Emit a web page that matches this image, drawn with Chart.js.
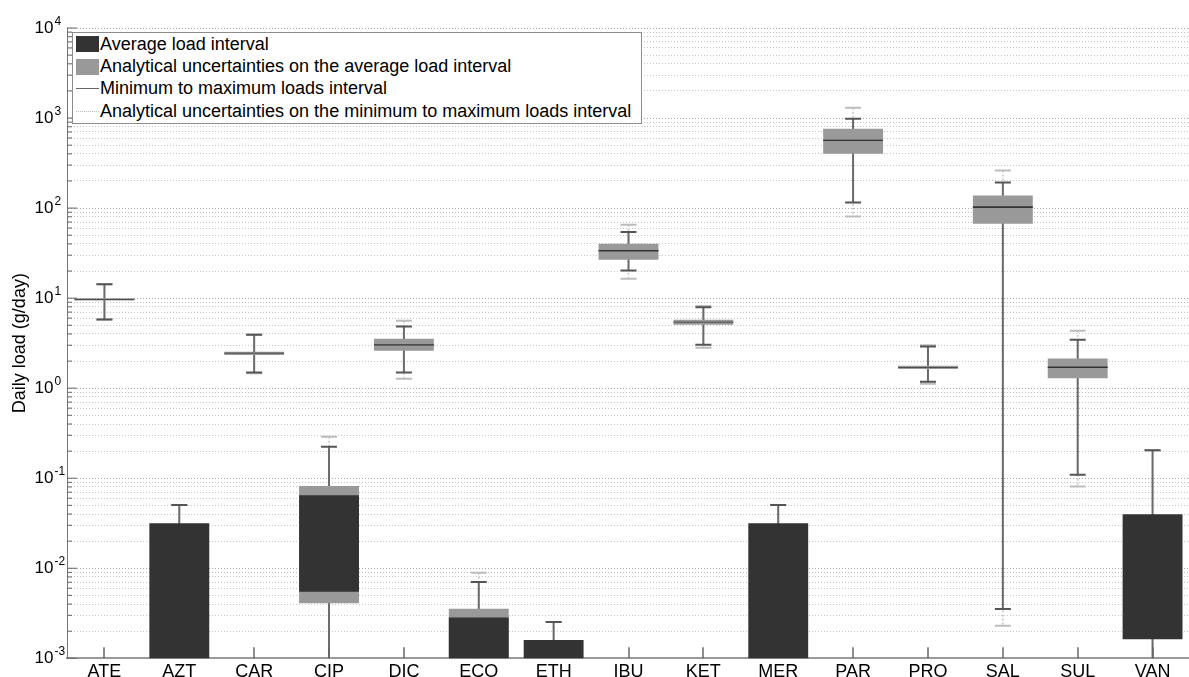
<!DOCTYPE html>
<html>
<head>
<meta charset="utf-8">
<script src="https://cdn.jsdelivr.net/npm/chart.js@4"></script>
<style>
  html, body { margin: 0; padding: 0; background: #fff; overflow: hidden; }
  #wrap { position: relative; width: 1200px; height: 677px; }
  #legend {
    position: absolute; left: 72px; top: 32px; width: 568px; height: 90px;
    background: #fff; border: 1px solid #8c8c8c;
    font: 18px "Liberation Sans", Arial, sans-serif; color: #000;
  }
  #legend .row { height: 22.4px; display: flex; align-items: center; white-space: nowrap; }
  #legend .sw { width: 23px; height: 16px; margin-left: 3px; margin-right: 1px; flex: none; }
  #legend .ln { width: 23px; height: 0; margin-left: 3px; margin-right: 1px; flex: none; }
</style>
</head>
<body>
<div id="wrap">
  <canvas id="myChart"></canvas>
  <div id="legend">
    <div class="row"><span class="sw" style="background:#333"></span>Average load interval</div>
    <div class="row"><span class="sw" style="background:#999"></span>Analytical uncertainties on the average load interval</div>
    <div class="row"><span class="ln" style="border-top:1.5px solid #666"></span>Minimum to maximum loads interval</div>
    <div class="row"><span class="ln" style="border-top:1.5px dotted #bbb"></span>Analytical uncertainties on the minimum to maximum loads interval</div>
  </div>
</div>
<script>
const labels = ["ATE", "AZT", "CAR", "CIP", "DIC", "ECO", "ETH", "IBU", "KET", "MER", "PAR", "PRO", "SAL", "SUL", "VAN"];

// 0.0001 = below the bottom of the axis
const avgLow  = [9.6, 0.0001, 2.42, 0.0055, 2.98, 0.0001, 0.0001, 33.0, 5.35, 0.0001, 555, 1.67, 100, 1.68, 0.00163];
const avgHigh = [9.8, 0.0316, 2.48, 0.0647, 3.08, 0.00283, 0.0016, 34.2, 5.48, 0.0316, 575, 1.71, 105, 1.74, 0.0398];

const uncAvgLow  = [9.4, null, 2.33, 0.00408, 2.6, 0.0001, null, 26.7, 5.05, null, 401, 1.63, 67, 1.29, null];
const uncAvgHigh = [10.0, null, 2.53, 0.082, 3.53, 0.00356, null, 40.1, 5.74, null, 759, 1.77, 138, 2.13, null];

const minLoad = [5.78, 0.0001, 1.49, 0.0001, 1.49, 0.0001, 0.0001, 20.3, 3.03, 0.0001, 115, 1.18, 0.00353, 0.109, 0.0001];
const maxLoad = [14.3, 0.0505, 3.91, 0.224, 4.83, 0.00705, 0.00253, 54.1, 7.94, 0.0505, 981, 2.9, 192, 3.44, 0.205];

const uncMinLoad = [5.78, 0.0001, 1.46, 0.0001, 1.27, 0.0001, 0.0001, 16.4, 2.82, 0.0001, 80.7, 1.12, 0.0023, 0.0807, 0.0001];
const uncMaxLoad = [14.3, 0.0505, 3.95, 0.288, 5.6, 0.00893, 0.00253, 65.2, 8.2, 0.0505, 1300, 3.0, 262, 4.34, 0.205];

const decadeTicks = [0.001, 0.01, 0.1, 1, 10, 100, 1000, 10000];
const minorSteps = [2, 3, 4, 5, 6, 7, 8, 9];

const fontFamily = '"Liberation Sans", Arial, sans-serif';

const rangePairs = (lo, hi) => labels.map((l, i) => (lo[i] == null ? null : [lo[i], hi[i]]));
const whiskerPoints = (lo, hi) => labels.flatMap((l, i) => [
    { x: l, y: hi[i] },
    { x: l, y: lo[i] },
    { x: l, y: null },
]);

const yTickValues = [];
decadeTicks.forEach((d, k) => {
    yTickValues.push({ value: d, major: true });
    if (k < decadeTicks.length - 1) {
        minorSteps.forEach((s) => yTickValues.push({ value: +(s * d).toPrecision(3), major: false }));
    }
});

const axisDecor = {
    id: "axisDecor",
    afterDatasetsDraw(chart) {
        const { ctx, chartArea, scales } = chart;
        ctx.save();
        ctx.strokeStyle = "#666";
        ctx.lineWidth = 1.5;
        labels.forEach((l, i) => {
            // short upward tick, hidden where a dark bar already sits on the axis
            if (avgLow[i] !== null && avgLow[i] < 0.001) return;
            const px = Math.round(scales.x.getPixelForValue(i));
            ctx.beginPath();
            ctx.moveTo(px, chartArea.bottom);
            ctx.lineTo(px, chartArea.bottom - 11);
            ctx.stroke();
        });
        ctx.restore();
    },
    afterDraw(chart) {
        const { ctx, chartArea, scales } = chart;
        const y = scales.y;
        ctx.save();
        ctx.strokeStyle = "#666";
        ctx.lineWidth = 1;
        y.ticks.forEach((t) => {
            const py = y.getPixelForValue(t.value);
            const len = t.major ? 10 : 5;
            ctx.beginPath();
            ctx.moveTo(chartArea.left, py);
            ctx.lineTo(chartArea.left + len, py);
            ctx.stroke();
        });
        ctx.fillStyle = "#000";
        decadeTicks.forEach((v) => {
            const py = y.getPixelForValue(v);
            const exp = Math.round(Math.log10(v));
            ctx.font = "17px " + fontFamily;
            ctx.textAlign = "right";
            ctx.textBaseline = "middle";
            ctx.fillText("10", chartArea.left - 13.5, py);
            ctx.font = "12px " + fontFamily;
            ctx.textAlign = "left";
            ctx.textBaseline = "alphabetic";
            ctx.fillText(String(exp), chartArea.left - 12.5, py - 3);
        });
        ctx.restore();
    },
};

const ctx = document.getElementById("myChart").getContext("2d");
const myChart = new Chart(ctx, {
    type: "bar",
    data: {
        labels: labels,
        datasets: [
            {
                label: "Average load interval",
                data: rangePairs(avgLow, avgHigh),
                backgroundColor: "#333333",
                borderWidth: 0,
                grouped: false,
                categoryPercentage: 1,
                barPercentage: 0.8,
                order: 1,
                clip: 0,
            },
            {
                label: "Analytical uncertainties on the average load interval",
                data: rangePairs(uncAvgLow, uncAvgHigh),
                backgroundColor: "#999999",
                borderWidth: 0,
                grouped: false,
                categoryPercentage: 1,
                barPercentage: 0.8,
                order: 2,
                clip: 0,
            },
            {
                type: "line",
                label: "Minimum to maximum loads interval",
                data: whiskerPoints(minLoad, maxLoad),
                borderColor: "#6a6a6a",
                borderWidth: 2,
                spanGaps: false,
                pointStyle: "line",
                pointRadius: 8,
                pointBorderWidth: 2,
                pointBorderColor: "#555",
                order: 3,
                clip: 0,
            },
            {
                type: "line",
                label: "Analytical uncertainties on the minimum to maximum loads interval",
                data: whiskerPoints(uncMinLoad, uncMaxLoad),
                borderColor: "#c4c4c4",
                borderWidth: 1.5,
                borderDash: [2, 2],
                spanGaps: false,
                pointStyle: "line",
                pointRadius: 8,
                pointBorderWidth: 2,
                pointBorderColor: "#bdbdbd",
                order: 4,
                clip: 0,
            },
        ],
    },
    options: {
        responsive: true,
        maintainAspectRatio: false,
        animation: false,
        events: [],
        layout: { padding: { top: 28, right: 0, bottom: 0, left: 0 } },
        plugins: { legend: { display: false }, tooltip: { enabled: false } },
        scales: {
            x: {
                offset: true,
                grid: { display: false },
                border: { display: true, color: "#9a9a9a", width: 2 },
                ticks: { color: "#000", font: { family: fontFamily, size: 18 }, padding: -5, maxRotation: 0, autoSkip: false },
                afterFit: (scale) => { scale.height = 18.7; },
            },
            y: {
                type: "logarithmic",
                min: 0.001,
                max: 10000,
                afterBuildTicks: (scale) => { scale.ticks = yTickValues.map((t) => ({ ...t })); },
                afterFit: (scale) => { scale.width = 67; },
                ticks: { display: false },
                grid: {
                    drawTicks: false,
                    lineWidth: 1,
                    color: (c) => (c.tick && c.tick.major ? "#a8a8a8" : "#c4c4c4"),
                },
                border: { display: true, color: "#777", width: 1, dash: [1, 2] },
                title: {
                    display: true,
                    text: "Daily load (g/day)",
                    color: "#000",
                    font: { family: fontFamily, size: 18 },
                    padding: { top: 9, bottom: 0 },
                },
            },
        },
    },
    plugins: [axisDecor],
});
</script>
</body>
</html>
